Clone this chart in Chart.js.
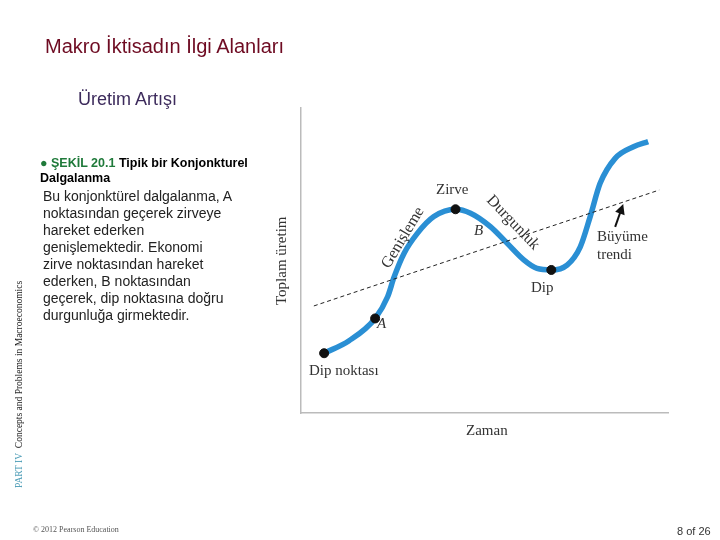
<!DOCTYPE html>
<html>
<head>
<meta charset="utf-8">
<script src="https://cdn.jsdelivr.net/npm/chart.js@4.4.0/dist/chart.umd.min.js"></script>
<style>
  body { margin: 0; width: 720px; height: 540px; background: #fff; position: relative; overflow: hidden; font-family: "Liberation Sans", Arial, sans-serif; }
  #wrap { position: absolute; left: 0; top: 0; width: 720px; height: 540px; }
  .t { position: absolute; white-space: nowrap; }
  .serif { font-family: "Liberation Serif", "Times New Roman", serif; color: #333; font-size: 15px; }
</style>
</head>
<body>
<div id="wrap"><canvas id="cycleChart" width="720" height="540"></canvas></div>

<div class="t" style="left:45px;top:35px;font-size:20px;color:#6e0b22;">Makro İktisadın İlgi Alanları</div>
<div class="t" style="left:78px;top:89px;font-size:18px;color:#3d2b5c;">Üretim Artışı</div>

<div class="t" style="left:40px;top:156px;font-size:12.5px;font-weight:bold;line-height:15px;">
  <span style="color:#1f7a3a;">&#9679; ŞEKİL 20.1</span> Tipik bir Konjonkturel<br>Dalgalanma
</div>
<div class="t" style="left:43px;top:188px;font-size:14px;line-height:17px;color:#222;">
  Bu konjonktürel dalgalanma, A<br>noktasından geçerek zirveye<br>hareket ederken<br>genişlemektedir. Ekonomi<br>zirve noktasından hareket<br>ederken, B noktasından<br>geçerek, dip noktasına doğru<br>durgunluğa girmektedir.
</div>

<div class="t" style="left:14px;top:488px;transform-origin:0 0;transform:rotate(-90deg);font-family:'Liberation Serif',serif;font-size:9.5px;color:#222;">
  <span style="color:#4a9bb5;">PART IV</span>&nbsp; Concepts and Problems in Macroeconomics
</div>

<div class="t" style="left:33px;top:525px;font-family:'Liberation Serif',serif;font-size:8px;color:#555;">© 2012 Pearson Education</div>
<div class="t" style="left:677px;top:525px;font-size:11px;color:#333;">8 of 26</div>

<!-- chart labels -->
<div class="t serif" style="left:436px;top:181px;">Zirve</div>
<div class="t serif" style="left:377px;top:262px;font-size:16px;transform:rotate(-59deg);transform-origin:0 0;">Genişleme</div>
<div class="t serif" style="left:496px;top:191px;font-size:16px;transform:rotate(46deg);transform-origin:0 0;">Durgunluk</div>
<div class="t serif" style="left:474px;top:222px;font-style:italic;">B</div>
<div class="t serif" style="left:377px;top:315px;font-style:italic;">A</div>
<div class="t serif" style="left:531px;top:279px;">Dip</div>
<div class="t serif" style="left:309px;top:362px;">Dip noktası</div>
<div class="t serif" style="left:597px;top:227px;line-height:18px;">Büyüme<br>trendi</div>
<div class="t serif" style="left:466px;top:422px;">Zaman</div>
<div class="t serif" style="left:273px;top:305px;transform:rotate(-90deg);transform-origin:0 0;">Toplam üretim</div>

<script>
// business cycle curve (time, output)
const cycleX = [6.3, 13.1, 20.2, 23.6, 25.4, 28.1, 31.7, 36.2, 42.1, 46.2, 51.6, 56.2, 60.7, 64.3, 68.2, 72.5, 76.1, 78.8, 81.5, 85.6, 90.6, 94.6];
const cycleY = [19.6, 23.7, 31.0, 38.1, 44.7, 52.4, 58.9, 64.4, 66.8, 65.5, 61.1, 55.6, 50.2, 47.4, 46.9, 48.5, 54.5, 64.4, 75.3, 83.5, 87.3, 89.0];

// growth trend line
const trendX = [3.5, 97.6];
const trendY = [35.1, 73.1];

// marked points: dip noktası, A, zirve, dip
const markX = [6.3, 20.2, 42.1, 68.2];
const markY = [19.6, 31.0, 66.8, 46.9];

// arrow toward trend
const arrowX = [85.6, 87.8];
const arrowY = [61.0, 68.5];

const toPts = (xs, ys) => xs.map((x, i) => ({ x: x, y: ys[i] }));

const arrowPlugin = {
    id: 'arrow',
    afterDatasetsDraw(chart) {
        const c = chart.ctx, xs = chart.scales.x, ys = chart.scales.y;
        const x0 = xs.getPixelForValue(arrowX[0]), y0 = ys.getPixelForValue(arrowY[0]);
        const x1 = xs.getPixelForValue(arrowX[1]), y1 = ys.getPixelForValue(arrowY[1]);
        const a = Math.atan2(y1 - y0, x1 - x0);
        c.save();
        c.strokeStyle = '#111';
        c.fillStyle = '#111';
        c.lineWidth = 2;
        c.beginPath();
        c.moveTo(x0, y0);
        c.lineTo(x1 - 5 * Math.cos(a), y1 - 5 * Math.sin(a));
        c.stroke();
        c.beginPath();
        c.moveTo(x1, y1);
        c.lineTo(x1 - 10 * Math.cos(a) + 5 * Math.sin(a), y1 - 10 * Math.sin(a) - 5 * Math.cos(a));
        c.lineTo(x1 - 10 * Math.cos(a) - 5 * Math.sin(a), y1 - 10 * Math.sin(a) + 5 * Math.cos(a));
        c.closePath();
        c.fill();
        c.restore();
    }
};

const ctx = document.getElementById('cycleChart').getContext('2d');
new Chart(ctx, {
    type: 'scatter',
    data: {
        datasets: [{
                label: 'Trend',
                data: toPts(trendX, trendY),
                showLine: true,
                borderColor: '#222',
                borderWidth: 1,
                borderDash: [4, 3],
                pointRadius: 0
            }, {
                label: 'Points',
                data: toPts(markX, markY),
                backgroundColor: '#111',
                borderColor: '#111',
                pointRadius: 4.5
            }, {
                label: 'Cycle',
                data: toPts(cycleX, cycleY),
                showLine: true,
                borderColor: '#2a8fd4',
                borderWidth: 5.5,
                cubicInterpolationMode: 'monotone',
                pointRadius: 0,
                order: 1
            }]
    },
    options: {
        responsive: false,
        animation: false,
        layout: {
            padding: { left: 293, right: 52, top: 108, bottom: 119 }
        },
        scales: {
            x: {
                type: 'linear', min: 0, max: 100,
                ticks: { display: false },
                grid: { display: false },
                border: { display: true, color: '#bbb', width: 1.5 }
            },
            y: {
                min: 0, max: 100,
                ticks: { display: false },
                grid: { display: false },
                border: { display: true, color: '#bbb', width: 1.5 }
            }
        },
        plugins: {
            legend: { display: false },
            tooltip: { enabled: false }
        }
    },
    plugins: [arrowPlugin]
});
</script>
</body>
</html>
